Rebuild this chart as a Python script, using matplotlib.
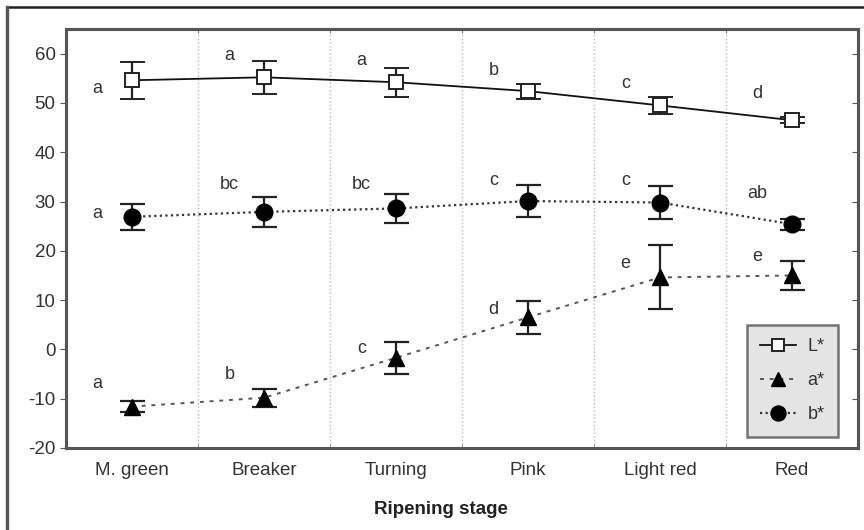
import matplotlib
matplotlib.use('Agg')
import matplotlib.pyplot as plt
from matplotlib.lines import Line2D

plt.rcParams['font.family'] = ['Liberation Sans', 'DejaVu Sans']
plt.rcParams['axes.unicode_minus'] = False

# Ripening stages
stages = ['M. green', 'Breaker', 'Turning', 'Pink', 'Light red', 'Red']

# Colour parameters (mean and error)
L_mean = [54.6, 55.2, 54.2, 52.4, 49.5, 46.5]
L_err = [3.7, 3.4, 2.9, 1.5, 1.8, 0.6]
a_mean = [-11.6, -9.8, -1.7, 6.5, 14.6, 15.0]
a_err = [1.1, 1.8, 3.2, 3.4, 6.5, 2.9]
b_mean = [26.9, 27.9, 28.6, 30.1, 29.8, 25.4]
b_err = [2.6, 3.1, 3.0, 3.3, 3.4, 1.1]

# Significance letters and their heights
L_letters = ['a', 'a', 'a', 'b', 'c', 'd']
L_letter_y = [52.9, 59.6, 58.6, 56.6, 53.9, 52.0]
a_letters = ['a', 'b', 'c', 'd', 'e', 'e']
a_letter_y = [-7.0, -5.0, 0.1, 8.0, 17.4, 18.8]
b_letters = ['a', 'bc', 'bc', 'c', 'c', 'ab']
b_letter_y = [27.5, 33.4, 33.4, 34.2, 34.2, 31.6]

fig = plt.figure(figsize=(8.64, 5.30), dpi=100)
ax = fig.add_axes([66 / 864, 1 - 448 / 530, (858 - 66) / 864, (448 - 29) / 530])

x = list(range(len(stages)))

err_kw = dict(capsize=9, elinewidth=1.6, capthick=1.6, ecolor='#222222')

# line / marker styles per parameter
L_style = dict(color='#111111', lw=1.3, ls='-', marker='s', ms=10,
               mfc='white', mec='#222222', mew=1.4)
a_style = dict(color='#555555', lw=1.4, ls=(0, (2, 3)), marker='^', ms=11,
               mfc='black', mec='black')
b_style = dict(color='#333333', lw=1.6, ls=(0, (1, 1.5)), marker='o', ms=12,
               mfc='black', mec='black')

ax.errorbar(x, L_mean, yerr=L_err, zorder=3, **L_style, **err_kw)
ax.errorbar(x, a_mean, yerr=a_err, zorder=3, **a_style, **err_kw)
ax.errorbar(x, b_mean, yerr=b_err, zorder=3, **b_style, **err_kw)

# Letters
for letters, ys in [(L_letters, L_letter_y), (a_letters, a_letter_y),
                    (b_letters, b_letter_y)]:
    for i, (t, yy) in enumerate(zip(letters, ys)):
        ax.text(i - 0.26, yy, t, ha='center', va='center', fontsize=13,
                color='#333333')

ax.set_xlim(-0.5, len(stages) - 0.5)
ax.set_ylim(-20, 65)
ax.set_yticks(range(-20, 61, 10))
ax.set_xticks(x)
ax.set_xticklabels(stages)
ax.set_xticks([i + 0.5 for i in range(len(stages) - 1)], minor=True)
ax.tick_params(axis='x', which='major', length=0, pad=10, labelsize=13.5,
               labelcolor='#333333')
ax.tick_params(axis='x', which='minor', length=3, direction='in',
               color='#777777', top=True)
ax.tick_params(axis='y', length=4, labelsize=13.5, labelcolor='#333333',
               color='#555555')
ax.grid(True, axis='x', which='minor', ls=':', color='#bbbbbb', lw=1)

# inward ticks on the right spine
ax2 = ax.twinx()
ax2.set_ylim(ax.get_ylim())
ax2.set_yticks(range(-20, 61, 10))
ax2.tick_params(axis='y', direction='in', length=4, labelright=False,
                color='#555555')

for a_ in (ax, ax2):
    for sp in a_.spines.values():
        sp.set_linewidth(2.2)
        sp.set_color('#555555')

ax.set_xlabel('Ripening stage', fontsize=13.5, fontweight='bold', color='#222222')
ax.xaxis.set_label_coords((441 - 66) / (858 - 66), -(501 - 448) / (448 - 29))

handles = [Line2D([], [], **L_style), Line2D([], [], **a_style),
           Line2D([], [], **b_style)]
leg = ax2.legend(handles, ['L*', 'a*', 'b*'], loc='lower right',
                 bbox_to_anchor=(1 - 20 / 792, 11 / 419), borderaxespad=0,
                 fontsize=13, frameon=True, fancybox=False, handlelength=2.0,
                 borderpad=0.75, labelspacing=0.95, handletextpad=0.6,
                 markerscale=0.9)
leg.get_frame().set_facecolor('#dedede')
leg.get_frame().set_edgecolor('#555555')
leg.get_frame().set_linewidth(1.8)
for t in leg.get_texts():
    t.set_color('#333333')

# Outer frame
fig.add_artist(Line2D([7 / 864, 1.0], [1 - 7 / 530, 1 - 7 / 530],
                      transform=fig.transFigure, color='#222222', lw=1.8))
fig.add_artist(Line2D([7 / 864, 7 / 864], [0.0, 1 - 7 / 530],
                      transform=fig.transFigure, color='#555555', lw=2.4))

fig.savefig('out.png', dpi=100)
